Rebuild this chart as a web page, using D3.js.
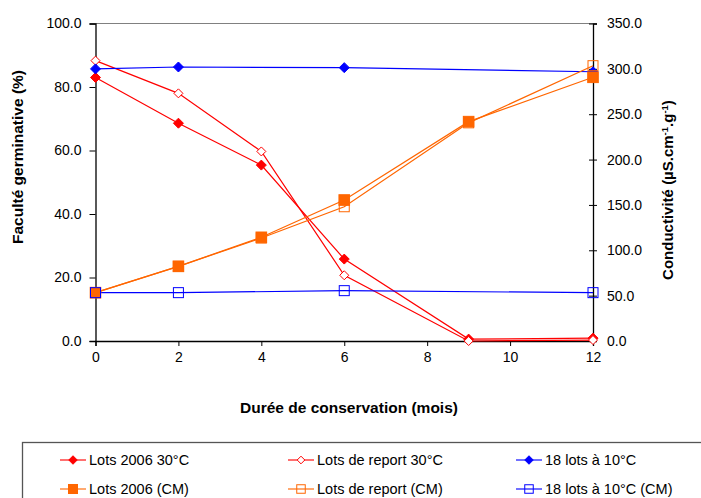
<!DOCTYPE html>
<html>
<head>
<meta charset="utf-8">
<script src="https://cdnjs.cloudflare.com/ajax/libs/d3/7.8.5/d3.min.js"></script>
<style>
  html, body { margin: 0; padding: 0; background: #fff; }
  svg { display: block; font-family: "Liberation Sans", Arial, sans-serif; }
</style>
</head>
<body>
<svg id="chart" width="701" height="498"></svg>
<script>
// ---- data ----
const months = [0, 2, 4, 6, 9, 12];
const months10 = [0, 2, 6, 12];
const lots2006_30 = [83.0, 68.6, 55.4, 25.8, 0.6, 0.9];        // left axis (%)
const report_30 = [88.3, 78.0, 59.7, 20.7, 0.0, 0.3];           // left axis (%)
const lots18_10 = [85.7, 86.3, 86.1, 84.8];                      // left axis (%)
const lots2006_CM = [53.3, 82.3, 114.3, 155.4, 241.8, 290.7];   // right axis
const report_CM = [53.3, 82.3, 113.5, 148.0, 240.5, 303.5];      // right axis
const lots18_10_CM = [53.3, 53.3, 55.5, 53.3];                  // right axis
const xTicks = [0, 2, 4, 6, 8, 10, 12];
const leftTicks = [0, 20, 40, 60, 80, 100];
const rightTicks = [0, 50, 100, 150, 200, 250, 300, 350];

const series = [
  { name: "Lots 2006 30°C", x: months, y: lots2006_30, axis: "L", color: "#FF0000", shape: "diamond", fill: true },
  { name: "Lots de report 30°C", x: months, y: report_30, axis: "L", color: "#FF0000", shape: "diamond", fill: false },
  { name: "18 lots à 10°C", x: months10, y: lots18_10, axis: "L", color: "#0000FF", shape: "diamond", fill: true },
  { name: "Lots 2006 (CM)", x: months, y: lots2006_CM, axis: "R", color: "#FF6600", shape: "square", fill: true },
  { name: "Lots de report (CM)", x: months, y: report_CM, axis: "R", color: "#FF6600", shape: "square", fill: false },
  { name: "18 lots à 10°C (CM)", x: months10, y: lots18_10_CM, axis: "R", color: "#0000FF", shape: "square", fill: false }
];

// ---- layout ----
const svg = d3.select("#chart");
const pLeft = 95.5, pRight = 593, pTop = 23.5, pBottom = 341;
const x = d3.scaleLinear().domain([0, 12]).range([pLeft, pRight]);
const yL = d3.scaleLinear().domain([0, 100]).range([pBottom, pTop]);
const yR = d3.scaleLinear().domain([0, 350]).range([pBottom, pTop]);
const fmt = d3.format(".1f");

// top border
svg.append("line").attr("x1", pLeft).attr("x2", pRight).attr("y1", pTop).attr("y2", pTop)
  .attr("stroke", "#808080").attr("stroke-width", 1);

// left axis
const gL = svg.append("g").attr("transform", `translate(${pLeft},0)`)
  .call(d3.axisLeft(yL).tickValues(leftTicks).tickFormat(fmt).tickSize(6).tickPadding(8));
// right axis
const gR = svg.append("g").attr("transform", `translate(${pRight},0)`)
  .call(d3.axisRight(yR).tickValues(rightTicks).tickFormat(fmt).tickSize(4).tickPadding(10));
gR.selectAll(".tick line").attr("x1", -4);
// bottom axis
const gB = svg.append("g").attr("transform", `translate(0,${pBottom})`)
  .call(d3.axisBottom(x).tickValues(xTicks).tickFormat(d3.format("d")).tickSize(5).tickPadding(6));

[gL, gR, gB].forEach(g => {
  g.select(".domain").attr("stroke", "#000").attr("stroke-width", 1.3);
  g.selectAll(".tick line").attr("stroke", "#000").attr("stroke-width", 1);
  g.selectAll(".tick text").attr("font-size", 14).attr("fill", "#000")
    .attr("font-family", "'Liberation Sans', Arial, sans-serif");
});

// axis titles
svg.append("text").attr("x", 349).attr("y", 413).attr("text-anchor", "middle")
  .attr("font-size", 15.5).attr("font-weight", "bold").text("Durée de conservation (mois)");
svg.append("text").attr("transform", "translate(23,157) rotate(-90)").attr("text-anchor", "middle")
  .attr("font-size", 15.5).attr("font-weight", "bold").text("Faculté germinative (%)");
const rt = svg.append("text").attr("transform", "translate(673,190) rotate(-90)").attr("text-anchor", "middle")
  .attr("font-size", 15).attr("font-weight", "bold");
rt.append("tspan").text("Conductivité (µS.cm");
rt.append("tspan").attr("font-size", 9.5).attr("dy", -5).text("-1");
rt.append("tspan").attr("dy", 5).text(".g");
rt.append("tspan").attr("font-size", 9.5).attr("dy", -5).text("-1");
rt.append("tspan").attr("dy", 5).text(")");

// markers
function drawMarker(g, cx, cy, s, scale) {
  const k = scale || 1;
  if (s.shape === "diamond") {
    const r = (s.fill ? 5 : 4.5) * k;
    g.append("path").attr("d", `M${cx},${cy - r}L${cx + r},${cy}L${cx},${cy + r}L${cx - r},${cy}Z`)
      .attr("fill", s.fill ? s.color : "#fff").attr("stroke", s.color).attr("stroke-width", 1);
  } else {
    const h = (s.fill ? 5.3 : 5) * k;
    g.append("rect").attr("x", cx - h).attr("y", cy - h).attr("width", 2 * h).attr("height", 2 * h)
      .attr("fill", s.fill ? s.color : "none").attr("stroke", s.color).attr("stroke-width", 1);
  }
}

const plot = svg.append("g");
series.forEach(s => {
  const ys = s.axis === "L" ? yL : yR;
  const pts = s.x.map((d, i) => [x(d), ys(s.y[i])]);
  plot.append("path").attr("d", d3.line()(pts)).attr("fill", "none")
    .attr("stroke", s.color).attr("stroke-width", 1.2);
});
series.forEach(s => {
  const ys = s.axis === "L" ? yL : yR;
  s.x.forEach((d, i) => drawMarker(plot, x(d), ys(s.y[i]), s));
});

// legend
svg.append("rect").attr("x", 22.5).attr("y", 442.5).attr("width", 700).attr("height", 80)
  .attr("fill", "#fff").attr("stroke", "#555").attr("stroke-width", 1.3);
const colX = [60, 288, 516];
const rowY = [460, 489];
series.forEach((s, i) => {
  const cx = colX[i % 3], cy = rowY[Math.floor(i / 3)];
  const g = svg.append("g");
  g.append("line").attr("x1", cx).attr("x2", cx + 26).attr("y1", cy).attr("y2", cy)
    .attr("stroke", s.color).attr("stroke-opacity", 0.75).attr("stroke-width", 1.5);
  drawMarker(g, cx + 13, cy, s, 0.85);
  g.append("text").attr("x", cx + 29).attr("y", cy + 5).attr("font-size", 14.5).attr("fill", "#000").text(s.name);
});
</script>
</body>
</html>
